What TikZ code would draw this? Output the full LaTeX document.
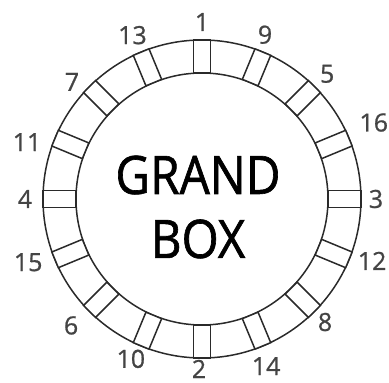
\documentclass[tikz,border=0pt]{standalone}
\usepackage{fontspec}
\usepackage{xcolor}
\usepackage{tikz}
\newfontfamily\numfont[FakeBold=0.8]{Open Sans}
\newfontfamily\titlefont[FakeStretch=0.9,FakeBold=1.2]{Open Sans}
\definecolor{ringline}{HTML}{2A2A2A}
\definecolor{numgray}{HTML}{444444}
\tikzset{
  ring/.style={draw=ringline, line width=1.5pt},
  slot/.style={draw=ringline, line width=1.5pt, minimum width=33pt,
               minimum height=17pt, inner sep=0pt, fill=white},
  num/.style={font=\numfont\fontsize{25}{30}\selectfont, text=numgray, inner sep=0pt},
  title/.style={font=\titlefont\fontsize{53}{64}\selectfont, align=center, inner sep=0pt}
}

\begin{document}
\begin{tikzpicture}[x=1pt, y=1pt]
  \useasboundingbox (-202,-184) rectangle (187,199);
  \draw[ring] (0,0) circle (159);
  \draw[ring] (0,0) circle (126);
  % slots around the ring: slot angle / number / label angle / label radius
  \foreach \a/\n/\la/\lr in {90/1/90/177, 67.5/9/69/176, 45/5/45/177, 22.5/16/24/188,
      0/3/0/174, -22.5/12/-20/181, -45/8/-45/174, -67.5/14/-69/179,
      -90/2/-91/170, -112.5/10/-114/175, -135/6/-136/182, -157.5/15/-160/185,
      180/4/180/177, 157.5/11/162/184, 135/7/138/175, 112.5/13/113/178}{
    \node[slot, rotate=\a] (s\n) at (\a:142.5) {};
    \node[num] (l\n) at (\la:\lr) {\n};
  }
  \node[title] (grand) at (-4,-8) {GRAND\\BOX};
\end{tikzpicture}
\end{document}
